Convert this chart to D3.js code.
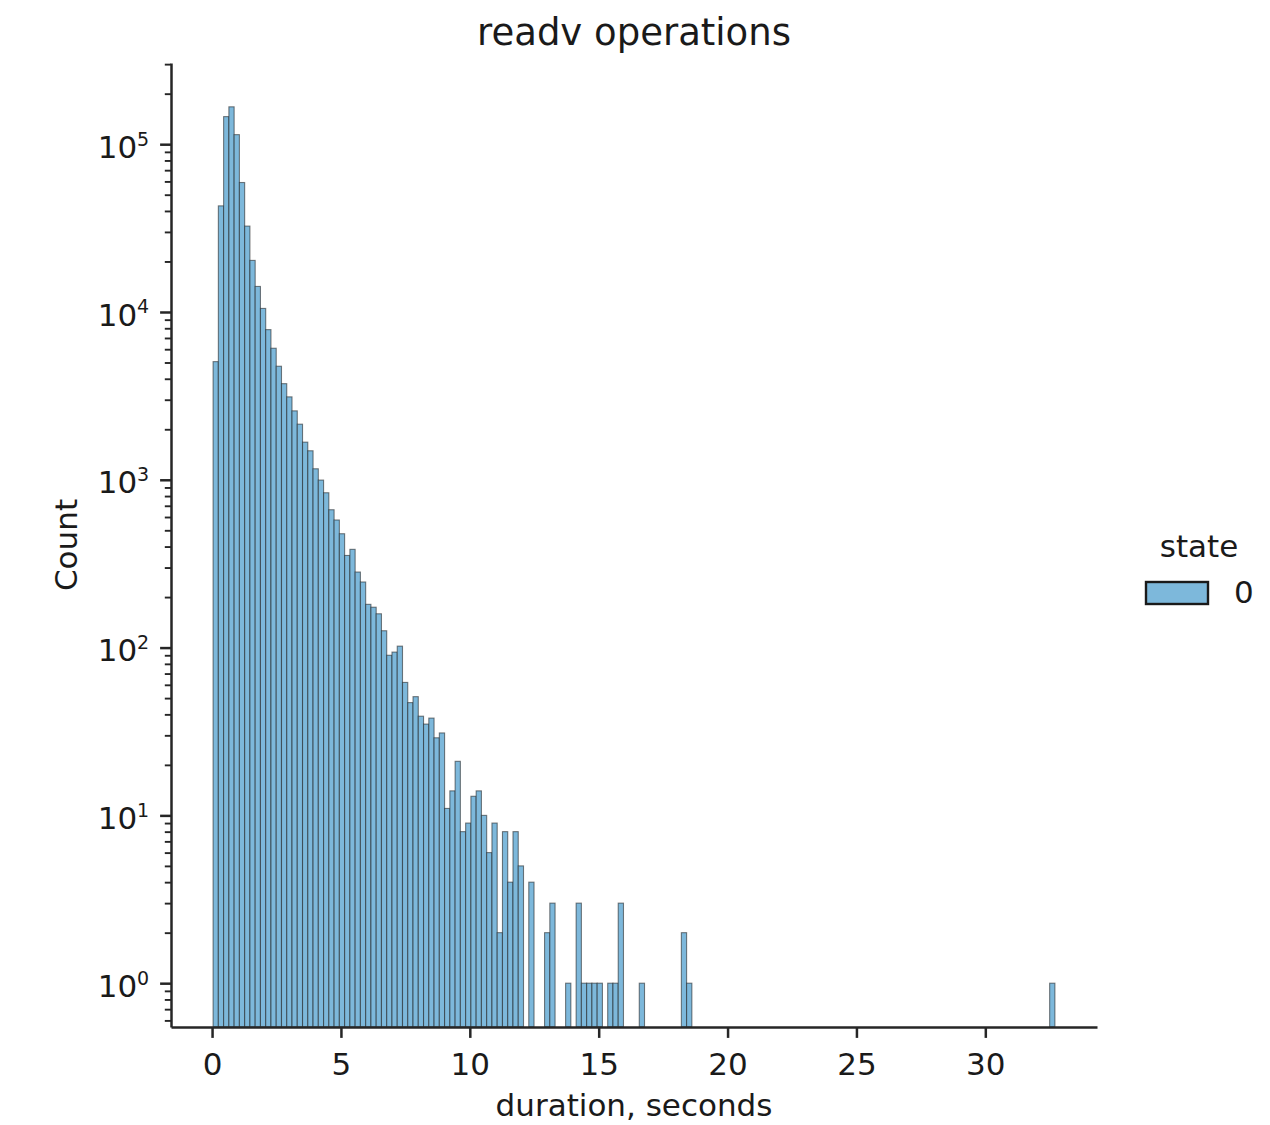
<!DOCTYPE html>
<html>
<head>
<meta charset="utf-8">
<script src="https://cdn.jsdelivr.net/npm/d3@7"></script>
<style>
body { margin: 0; background: #fff; }
text { font-family: "DejaVu Sans", sans-serif; fill: #1a1a1a; }
</style>
</head>
<body>
<svg id="chart" width="1270" height="1125"></svg>
<script>
// bin range of the histogram (seconds) and the count in each bin
var binLo = 0.04;
var binHi = 32.7;
var counts = [
  5060, 42900, 146000, 167000, 114000, 59100, 32500, 20300, 14200, 10500,
  7850, 6080, 4750, 3740, 3120, 2575, 2145, 1676, 1489, 1163,
  996, 837, 663, 576, 477, 354, 385, 282, 246, 181,
  174, 159, 126, 90, 94, 102, 62, 47, 51, 39,
  35, 38, 29, 31, 11, 14, 21, 8, 9, 13,
  14, 10, 6, 9, 2, 8, 4, 8, 5, 0,
  4, 0, 0, 2, 3, 0, 0, 1, 0, 3,
  1, 1, 1, 1, 0, 1, 1, 3, 0, 0,
  0, 1, 0, 0, 0, 0, 0, 0, 0, 2,
  1, 0, 0, 0, 0, 0, 0, 0, 0, 0,
  0, 0, 0, 0, 0, 0, 0, 0, 0, 0,
  0, 0, 0, 0, 0, 0, 0, 0, 0, 0,
  0, 0, 0, 0, 0, 0, 0, 0, 0, 0,
  0, 0, 0, 0, 0, 0, 0, 0, 0, 0,
  0, 0, 0, 0, 0, 0, 0, 0, 0, 0,
  0, 0, 0, 0, 0, 0, 0, 0, 0, 1
];
var xTicks = [0, 5, 10, 15, 20, 25, 30];
var yMajor = [1, 10, 100, 1000, 10000, 100000];
var yExponents = ["0", "1", "2", "3", "4", "5"];
var legendTitle = "state";
var legendLabels = ["0"];

var margin = {top: 63, right: 173, bottom: 98, left: 171};
var width = 1270 - margin.left - margin.right;
var height = 1125 - margin.top - margin.bottom;

var barFill = "#7db8db";
var ink = "#262626";
var majorLen = 10.9, minorLen = 6.2, tickPad = 10.9;

var binW = (binHi - binLo) / counts.length;
var bins = counts.map(function(c, i) {
  return {x0: binLo + i * binW, x1: binLo + (i + 1) * binW, n: c};
});

// matplotlib-like 5% margins
var pad = (binHi - binLo) * 0.05;
var xScale = d3.scaleLinear()
               .domain([binLo - pad, binHi + pad])
               .range([0, width]);

var topExp = Math.log10(d3.max(counts));
var yScale = d3.scaleLog()
               .domain([Math.pow(10, -0.05 * topExp), Math.pow(10, 1.05 * topExp)])
               .range([height, 0]);

var svg = d3.select("#chart");
var g = svg.append("g")
           .attr("transform", "translate(" + margin.left + "," + margin.top + ")");

// bars (empty bins are not drawn on the log axis)
g.append("g")
  .selectAll("rect")
  .data(bins.filter(function(d) { return d.n > 0; }))
  .enter().append("rect")
  .attr("x", function(d) { return xScale(d.x0); })
  .attr("width", function(d) { return xScale(d.x1) - xScale(d.x0); })
  .attr("y", function(d) { return yScale(d.n); })
  .attr("height", function(d) { return height - yScale(d.n); })
  .attr("fill", barFill)
  .attr("stroke", "#1a1a1a")
  .attr("stroke-opacity", 0.55)
  .attr("stroke-width", 1.1);

// minor log ticks
var yDom = yScale.domain();
var yMinor = [];
for (var k = -1; k <= 6; k++) {
  for (var m = 2; m <= 9; m++) {
    var v = m * Math.pow(10, k);
    if (v >= yDom[0] && v <= yDom[1]) yMinor.push(v);
  }
}

var yMinorAxis = g.append("g")
  .call(d3.axisLeft(yScale).tickValues(yMinor).tickFormat("").tickSize(minorLen).tickSizeOuter(0));
yMinorAxis.select(".domain").remove();
yMinorAxis.selectAll("line").attr("stroke", ink).attr("stroke-width", 1.9);

var yAxis = g.append("g")
  .call(d3.axisLeft(yScale).tickValues(yMajor).tickFormat("").tickSize(majorLen).tickSizeOuter(0));
yAxis.selectAll("line").attr("stroke", ink).attr("stroke-width", 2.5);
yAxis.select(".domain").attr("stroke", ink).attr("stroke-width", 2.5);

// 10^k labels
var yLab = g.append("g").selectAll("text")
  .data(yMajor)
  .enter().append("text")
  .attr("x", -(majorLen + tickPad))
  .attr("y", function(d) { return yScale(d) + 13.7; })
  .attr("text-anchor", "end")
  .attr("font-size", 31);
yLab.append("tspan").text("10");
yLab.append("tspan")
  .attr("font-size", 19)
  .attr("dy", -12.3)
  .text(function(d, i) { return yExponents[i]; });

var xAxis = g.append("g")
  .attr("transform", "translate(0," + height + ")")
  .call(d3.axisBottom(xScale).tickValues(xTicks).tickSize(majorLen).tickSizeOuter(0));
xAxis.selectAll("line").attr("stroke", ink).attr("stroke-width", 2.5);
xAxis.select(".domain").attr("stroke", ink).attr("stroke-width", 2.5);
xAxis.selectAll("text")
  .attr("y", 48)
  .attr("dy", null)
  .attr("font-size", 31)
  .attr("font-family", "DejaVu Sans")
  .attr("fill", "#1a1a1a");

// titles
svg.append("text")
  .attr("x", margin.left + width / 2)
  .attr("y", 45)
  .attr("text-anchor", "middle")
  .attr("font-size", 37)
  .text("readv operations");

svg.append("text")
  .attr("x", margin.left + width / 2)
  .attr("y", 1116)
  .attr("text-anchor", "middle")
  .attr("font-size", 31)
  .text("duration, seconds");

svg.append("text")
  .attr("transform", "translate(77," + (margin.top + height / 2) + ") rotate(-90)")
  .attr("text-anchor", "middle")
  .attr("font-size", 31)
  .text("Count");

// legend
var legend = svg.append("g").attr("transform", "translate(1146,0)");
legend.append("text")
  .attr("x", 53)
  .attr("y", 557)
  .attr("text-anchor", "middle")
  .attr("font-size", 31)
  .text(legendTitle);
legend.selectAll("rect")
  .data(legendLabels)
  .enter().append("rect")
  .attr("x", 0)
  .attr("y", function(d, i) { return 582 + i * 40; })
  .attr("width", 62)
  .attr("height", 22)
  .attr("fill", barFill)
  .attr("stroke", "#1a1a1a")
  .attr("stroke-width", 2.4);
legend.selectAll(".lab")
  .data(legendLabels)
  .enter().append("text")
  .attr("class", "lab")
  .attr("x", 88)
  .attr("y", function(d, i) { return 603 + i * 40; })
  .attr("font-size", 31)
  .text(function(d) { return d; });
</script>
</body>
</html>
